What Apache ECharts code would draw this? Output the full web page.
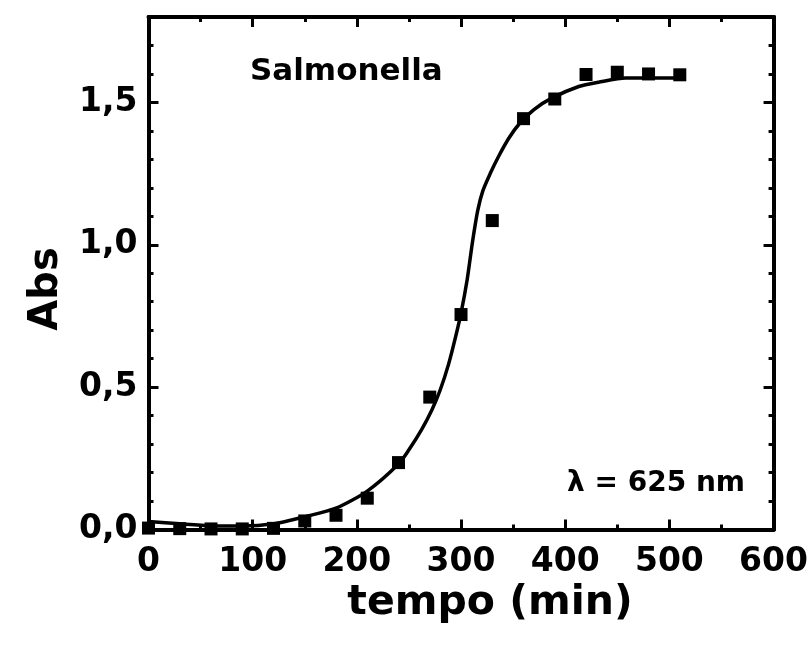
<!DOCTYPE html>
<html>
<head>
<meta charset="utf-8">
<script src="https://cdn.jsdelivr.net/npm/echarts@6/dist/echarts.min.js"></script>
<style>
  html, body { margin: 0; padding: 0; background: #fff; }
  #chart { width: 811px; height: 648px; }
</style>
</head>
<body>
<div id="chart"></div>
<script>
// measured points (tempo in min, Abs)
const timeMin = [0, 30, 60, 90, 120, 150, 180, 210, 240, 270, 300, 330, 360, 390, 420, 450, 480, 510];
const absValues = [0.005, 0.003, 0.002, 0.002, 0.004, 0.03, 0.05, 0.11, 0.235, 0.465, 0.755, 1.085, 1.443, 1.512, 1.598, 1.606, 1.6, 1.597];

// fitted curve
const fitTime = [0, 30, 60, 90, 120, 150, 180, 210, 240, 250, 262, 272, 280, 288, 295, 300, 306, 311, 316, 321, 328, 336, 346, 356, 370, 387, 413, 432, 458, 515];
const fitAbs = [0.028, 0.02, 0.013, 0.012, 0.02, 0.045, 0.075, 0.135, 0.23, 0.28, 0.35, 0.42, 0.49, 0.58, 0.68, 0.76, 0.88, 1.01, 1.12, 1.19, 1.25, 1.31, 1.375, 1.425, 1.475, 1.515, 1.556, 1.571, 1.586, 1.586];

const xTicks = [0, 100, 200, 300, 400, 500, 600];
const yTicks = [0, 0.5, 1.0, 1.5];

const tickFont = 'DejaVu Sans';
const black = '#000';

const chart = echarts.init(document.getElementById('chart'), null, { renderer: 'canvas' });

const axisLine = { show: true, onZero: false, lineStyle: { color: black, width: 4 } };

function xAxisDef(pos, showLabels) {
    return {
        type: 'value',
        position: pos,
        min: xTicks[0],
        max: xTicks[xTicks.length - 1],
        interval: 100,
        axisLine: axisLine,
        axisTick: { show: true, inside: true, length: 10, lineStyle: { color: black, width: 3 } },
        minorTick: { show: true, splitNumber: 2, length: 5, lineStyle: { color: black, width: 3 } },
        splitLine: { show: false },
        axisLabel: {
            show: showLabels,
            margin: 16,
            color: black,
            fontFamily: tickFont,
            fontWeight: 'bold',
            fontSize: 33
        }
    };
}

function yAxisDef(pos, major, showLabels) {
    return {
        type: 'value',
        position: pos,
        min: 0,
        max: 1.8,
        interval: major ? 0.5 : 0.1,
        axisLine: axisLine,
        axisTick: { show: true, inside: true, length: major ? 10 : 5, lineStyle: { color: black, width: 3 } },
        splitLine: { show: false },
        axisLabel: {
            show: showLabels,
            showMaxLabel: false,
            margin: 11,
            color: black,
            fontFamily: tickFont,
            fontWeight: 'bold',
            fontSize: 33,
            formatter: v => v.toFixed(1).replace('.', ',')
        }
    };
}

const option = {
    animation: false,
    backgroundColor: '#fff',
    grid: { left: 148.5, right: 35.5, top: 17, bottom: 118.5, containLabel: false },
    xAxis: [xAxisDef('bottom', true), xAxisDef('top', false)],
    yAxis: [
        yAxisDef('left', true, true),
        yAxisDef('right', true, false),
        yAxisDef('left', false, false),
        yAxisDef('right', false, false)
    ],
    graphic: [
        {
            type: 'text', x: 250, y: 72,
            style: { text: 'Salmonella', fill: black, font: 'bold 31px "DejaVu Sans"', textAlign: 'left', textVerticalAlign: 'middle' }
        },
        {
            type: 'text', x: 745, y: 484,
            style: { text: 'λ = 625 nm', fill: black, font: 'bold 28px "DejaVu Sans"', textAlign: 'right', textVerticalAlign: 'middle' }
        },
        {
            type: 'text', x: 490, y: 603,
            style: { text: 'tempo (min)', fill: black, font: 'bold 41px "DejaVu Sans"', textAlign: 'center', textVerticalAlign: 'middle' }
        },
        {
            type: 'text', x: 47, y: 289, rotation: Math.PI / 2,
            style: { text: 'Abs', fill: black, font: 'bold 40px "DejaVu Sans"', textAlign: 'center', textVerticalAlign: 'middle' }
        }
    ],
    series: [
        {
            type: 'line',
            data: fitTime.map((t, i) => [t, fitAbs[i]]),
            smooth: 0.25,
            showSymbol: false,
            clip: false,
            lineStyle: { color: black, width: 3.5 },
            z: 3
        },
        {
            type: 'scatter',
            data: timeMin.map((t, i) => [t, absValues[i]]),
            symbol: 'rect',
            symbolSize: 13,
            clip: false,
            itemStyle: { color: black, opacity: 1 },
            z: 4
        }
    ]
};

chart.setOption(option);
</script>
</body>
</html>
